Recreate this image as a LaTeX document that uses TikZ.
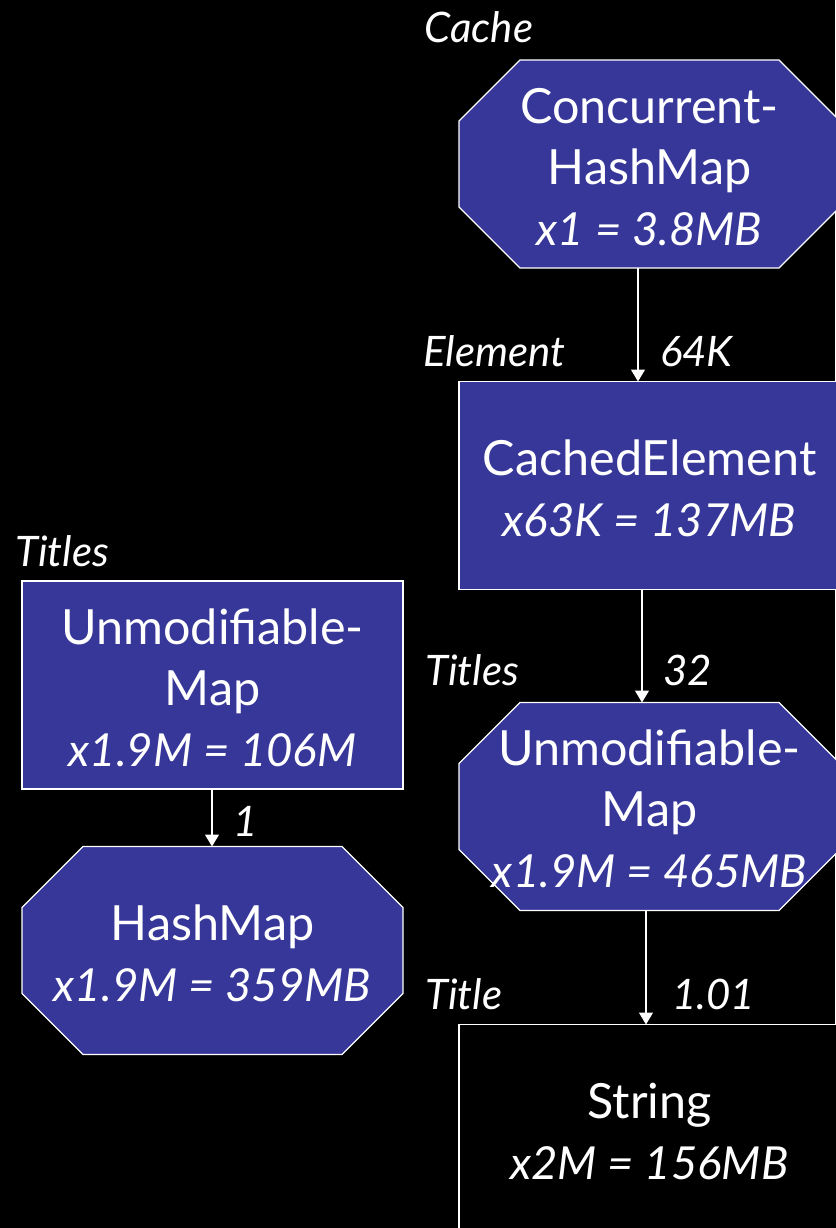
\documentclass[tikz,border=0pt]{standalone}
\usepackage{fontspec}
\setmainfont{Lato}
\usetikzlibrary{arrows.meta,calc,backgrounds}

\definecolor{boxblue}{RGB}{54,55,153}

% fixed line height for the text inside the object boxes
\newcommand{\lnstrut}{\rule[-10pt]{0pt}{60pt}}
% italic count/size line of an object box
\newcommand{\sizeline}[1]{{\fontsize{45.5}{61}\selectfont\itshape #1}}

% octagonal outline drawn behind a (borderless) rectangular node
\newcommand{\octoutline}[1]{%
  \begin{pgfonlayer}{background}
    \path[octa] ($(#1.north west)+(61,0)$) -- ($(#1.north east)+(-61,0)$)
      -- ($(#1.north east)+(0,61)$) -- ($(#1.south east)+(0,-61)$)
      -- ($(#1.south east)+(-61,0)$) -- ($(#1.south west)+(61,0)$)
      -- ($(#1.south west)+(0,-61)$) -- ($(#1.north west)+(0,61)$) -- cycle;
  \end{pgfonlayer}}

\tikzset{
  objbox/.style={minimum width=381, minimum height=208, inner sep=0pt,
    outer sep=0pt, align=center, text=white,
    font=\fontsize{48.5}{61}\selectfont},
  rectbox/.style={objbox, draw=white, line width=1.2pt, fill=boxblue},
  octbox/.style={objbox},
  octa/.style={draw=white, line width=1.2pt, fill=boxblue},
  plainbox/.style={objbox, draw=white, line width=1.2pt, fill=black},
  role/.style={text=white, font=\fontsize{42}{48}\selectfont\itshape,
    anchor=base west, inner sep=0pt},
  conn/.style={draw=white, line width=1.3pt,
    -{Triangle[width=14pt,length=12pt]}},
}

\begin{document}
\begin{tikzpicture}[x=1pt, y=-1pt]
  \useasboundingbox (0,0) rectangle (835,1228);
  \begin{pgfonlayer}{background}
    \fill[black] (0,0) rectangle (835,1228);
  \end{pgfonlayer}

  % object nodes
  \node[octbox] (chm) at (649.5,164)
    {\lnstrut Concurrent-\\\lnstrut HashMap\\\lnstrut\sizeline{x1 = 3.8MB}};
  \octoutline{chm}
  \node[rectbox] (ce) at (649.5,485.5)
    {\lnstrut CachedElement\\\lnstrut\sizeline{x63K = 137MB}};
  \node[octbox] (umr) at (649.5,806.5)
    {\lnstrut Unmodifiable-\\\lnstrut Map\\\lnstrut\sizeline{x1.9M = 465MB}};
  \octoutline{umr}
  \node[plainbox] (str) at (649.5,1128.5)
    {\lnstrut String\\\lnstrut\sizeline{x2M = 156MB}};
  \node[rectbox] (uml) at (212.5,685)
    {\lnstrut Unmodifiable-\\\lnstrut Map\\\lnstrut\sizeline{x1.9M = 106M}};
  \node[octbox] (hm) at (212.5,950.5)
    {\lnstrut HashMap\\\lnstrut\sizeline{x1.9M = 359MB}};
  \octoutline{hm}

  % role names
  \node[role] (rcache) at (424,43) {Cache};
  \node[role] (relem) at (423,366) {Element};
  \node[role] (rtitles) at (425,685) {Titles};
  \node[role] (rtitle) at (425,1009) {Title};
  \node[role] (rtitlesl) at (15,566) {Titles};

  % references with their counts
  \draw[conn] ([xshift=-11.5]chm.south) -- ([xshift=-11.5]ce.north);
  \node[role] (c1) at (660,366) {64K};
  \draw[conn] ([xshift=-7.5]ce.south) -- ([xshift=-7.5]umr.north);
  \node[role] (c2) at (663,685) {32};
  \draw[conn] ([xshift=-3.5]umr.south) -- ([xshift=-3.5]str.north);
  \node[role] (c3) at (672,1009) {1.01};
  \draw[conn] ([xshift=-0.5]uml.south) -- ([xshift=-0.5]hm.north);
  \node[role] (c4) at (233,836) {1};
\end{tikzpicture}
\end{document}
